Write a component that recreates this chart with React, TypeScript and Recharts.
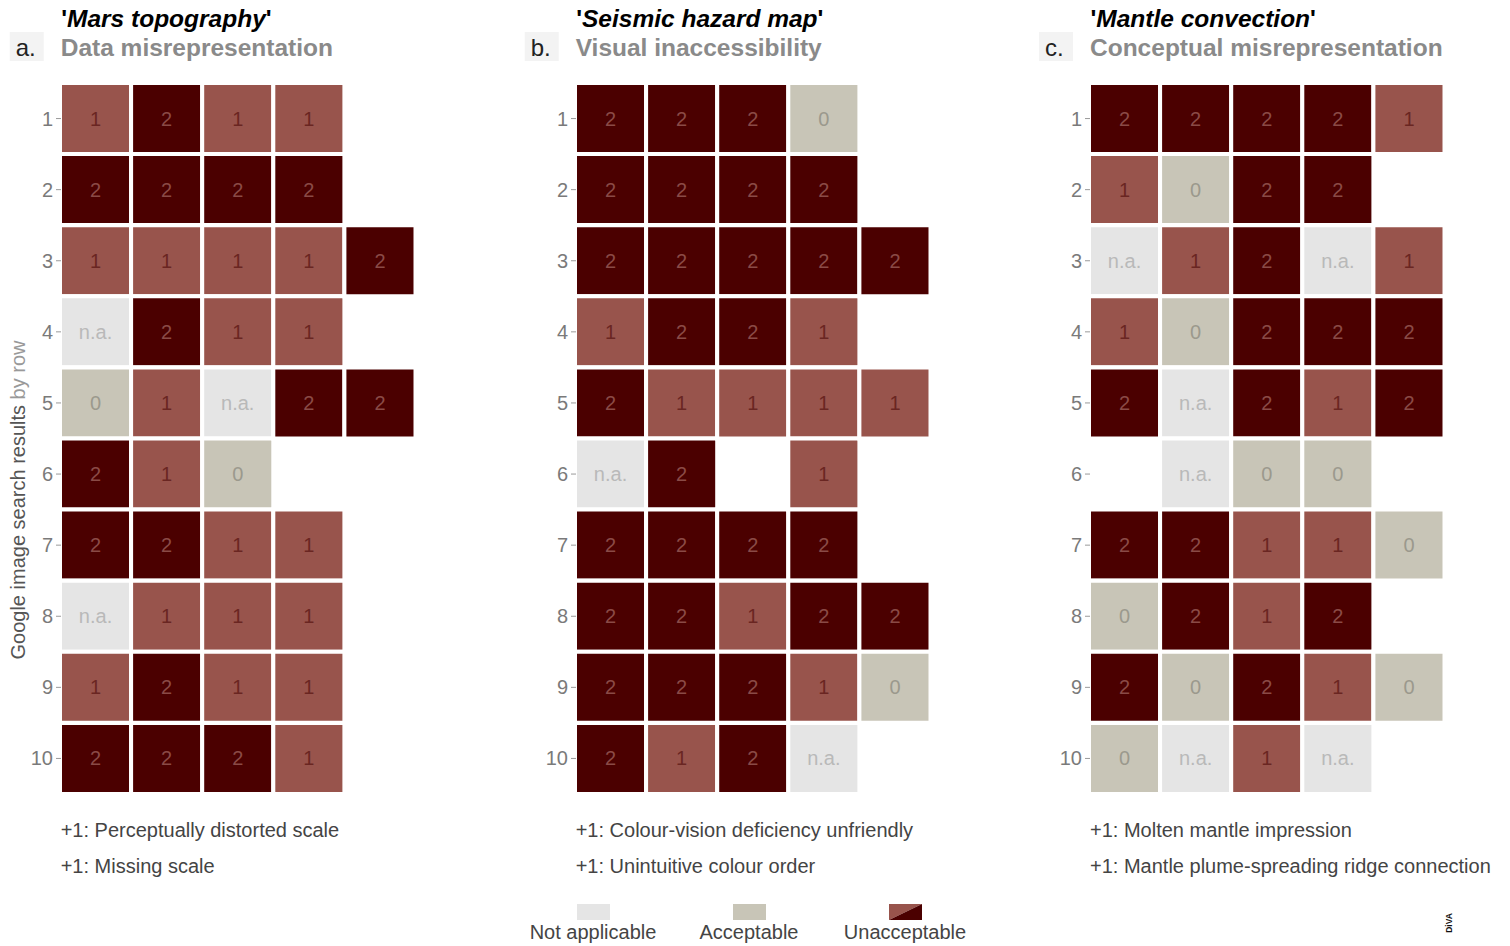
import { BarChart, Bar, XAxis, YAxis, Cell, LabelList } from 'recharts';

type Score = number | 'na' | null;

const ROWS = ['1', '2', '3', '4', '5', '6', '7', '8', '9', '10'];
const COLS = [0, 1, 2, 3, 4];

// scores per search result row, left to right; 'na' = not applicable, null = no image
const marsScores: Score[][] = [
  [1, 2, 1, 1],
  [2, 2, 2, 2],
  [1, 1, 1, 1, 2],
  ['na', 2, 1, 1],
  [0, 1, 'na', 2, 2],
  [2, 1, 0],
  [2, 2, 1, 1],
  ['na', 1, 1, 1],
  [1, 2, 1, 1],
  [2, 2, 2, 1],
];

const seismicScores: Score[][] = [
  [2, 2, 2, 0],
  [2, 2, 2, 2],
  [2, 2, 2, 2, 2],
  [1, 2, 2, 1],
  [2, 1, 1, 1, 1],
  ['na', 2, null, 1],
  [2, 2, 2, 2],
  [2, 2, 1, 2, 2],
  [2, 2, 2, 1, 0],
  [2, 1, 2, 'na'],
];

const mantleScores: Score[][] = [
  [2, 2, 2, 2, 1],
  [1, 0, 2, 2],
  ['na', 1, 2, 'na', 1],
  [1, 0, 2, 2, 2],
  [2, 'na', 2, 1, 2],
  [null, 'na', 0, 0],
  [2, 2, 1, 1, 0],
  [0, 2, 1, 2],
  [2, 0, 2, 1, 0],
  [0, 'na', 1, 'na'],
];

const panelLetters = ['a.', 'b.', 'c.'];
const panelTitles = ['Mars topography', 'Seismic hazard map', 'Mantle convection'];
const panelSubtitles = ['Data misrepresentation', 'Visual inaccessibility', 'Conceptual misrepresentation'];
const panelNotes = [
  ['+1: Perceptually distorted scale', '+1: Missing scale'],
  ['+1: Colour-vision deficiency unfriendly', '+1: Unintuitive colour order'],
  ['+1: Molten mantle impression', '+1: Mantle plume-spreading ridge connection'],
];
const legendLabels = ['Not applicable', 'Acceptable', 'Unacceptable'];

const FONT = '"Liberation Sans", Arial, Helvetica, sans-serif';
const PLOT_W = 355.5;
const PLOT_H = 711;
const PLOT_TOP = 83;
const AXIS_W = 50;
const PANEL_X = [59.7, 574.7, 1089];

const FILL: Record<string, string> = { na: '#e5e5e5', '0': '#c8c5b7', '1': '#98544c', '2': '#4b0000' };
const INK: Record<string, string> = { na: '#b9b9b9', '0': '#9b998d', '1': '#6a2622', '2': '#8a4a46' };

function buildData(scores: Score[][]) {
  return ROWS.map((row, r) => {
    const o: any = { row };
    COLS.forEach((c) => {
      const v = scores[r][c];
      o[`c${c}`] = v === undefined ? 0 : 1;
      o[`s${c}`] = v === undefined ? null : v;
    });
    return o;
  });
}

const RowTick = ({ x, y, payload }: any) => (
  <g>
    <line x1={x - 4} x2={x + 1} y1={y} y2={y} stroke="#9a9a9a" strokeWidth={1} />
    <text x={x - 7} y={y} dy="0.35em" textAnchor="end" fill="#7a7a7a" fontSize={20} fontFamily={FONT}>
      {payload.value}
    </text>
  </g>
);

const CellLabel = ({ x, y, width, height, value }: any) => {
  if (value === null || value === undefined) return null;
  const k = String(value);
  return (
    <text
      x={x + width / 2}
      y={y + height / 2}
      dy="0.35em"
      textAnchor="middle"
      fill={INK[k]}
      fontSize={20}
      fontFamily={FONT}
    >
      {k === 'na' ? 'n.a.' : k}
    </text>
  );
};

function Panel({ scores, left }: { scores: Score[][]; left: number }) {
  const data = buildData(scores);
  return (
    <div style={{ position: 'absolute', left: left - AXIS_W, top: 0 }}>
      <BarChart
        width={AXIS_W + PLOT_W + 4}
        height={PLOT_TOP + PLOT_H + 4}
        data={data}
        layout="vertical"
        barCategoryGap={0}
        margin={{ top: PLOT_TOP, right: 4, bottom: 4, left: 0 }}
      >
        <XAxis type="number" domain={[0, 5]} hide />
        <YAxis
          type="category"
          dataKey="row"
          width={AXIS_W}
          axisLine={false}
          tickLine={false}
          tickSize={0}
          tickMargin={0}
          tick={<RowTick />}
          interval={0}
        />
        {COLS.map((c) => (
          <Bar key={c} dataKey={`c${c}`} stackId="grid" isAnimationActive={false}>
            {data.map((d: any, i: number) => {
              const v = d[`s${c}`];
              const filled = v !== null;
              return (
                <Cell
                  key={i}
                  fill={filled ? FILL[String(v)] : 'transparent'}
                  stroke={filled ? '#ffffff' : 'none'}
                  strokeWidth={4}
                />
              );
            })}
            <LabelList dataKey={`s${c}`} content={<CellLabel />} />
          </Bar>
        ))}
      </BarChart>
    </div>
  );
}

const allScores = [marsScores, seismicScores, mantleScores];
const legendX = [593, 749, 905];

export default function App() {
  return (
    <div style={{ position: 'relative', width: 1510, height: 946, background: '#fff', fontFamily: FONT }}>
      <style>{'body{margin:0}'}</style>
      {allScores.map((s, i) => (
        <Panel key={i} scores={s} left={PANEL_X[i]} />
      ))}
      <svg width={1510} height={946} style={{ position: 'absolute', left: 0, top: 0, pointerEvents: 'none' }}>
        {PANEL_X.map((px, i) => (
          <g key={i} fontFamily={FONT}>
            <text x={px + 1.5} y={27} fontSize={24.5} fontWeight="bold" fill="#000">
              {"'"}
              <tspan fontStyle="italic">{panelTitles[i]}</tspan>
              {"'"}
            </text>
            <rect x={px - 50} y={32} width={34} height={29} fill="#f3f3f3" />
            <text x={px - 44} y={56} fontSize={24} fill="#222">
              {panelLetters[i]}
            </text>
            <text x={px + 1} y={56} fontSize={24.5} fontWeight="bold" fill="#8a8a8a">
              {panelSubtitles[i]}
            </text>
            {panelNotes[i].map((n, j) => (
              <text key={j} x={px + 1} y={837 + j * 36} fontSize={20} fill="#444">
                {n}
              </text>
            ))}
          </g>
        ))}
        <text
          transform="translate(25,500) rotate(-90)"
          textAnchor="middle"
          fontSize={20}
          fontFamily={FONT}
          fill="#555"
        >
          Google image search results <tspan fill="#999">by row</tspan>
        </text>
        <rect x={legendX[0] - 16} y={904} width={33} height={16} fill={FILL.na} />
        <rect x={legendX[1] - 16} y={904} width={33} height={16} fill={FILL['0']} />
        <polygon points={`${legendX[2] - 16},904 ${legendX[2] + 17},904 ${legendX[2] - 16},920`} fill={FILL['1']} />
        <polygon points={`${legendX[2] + 17},904 ${legendX[2] + 17},920 ${legendX[2] - 16},920`} fill={FILL['2']} />
        {legendLabels.map((l, i) => (
          <text key={l} x={legendX[i]} y={939} textAnchor="middle" fontSize={20} fontFamily={FONT} fill="#444">
            {l}
          </text>
        ))}
        <text
          transform="translate(1452,923) rotate(-90)"
          textAnchor="middle"
          fontSize={8.5}
          fontWeight="bold"
          fontFamily={FONT}
          fill="#111"
        >
          DiVA
        </text>
      </svg>
    </div>
  );
}
